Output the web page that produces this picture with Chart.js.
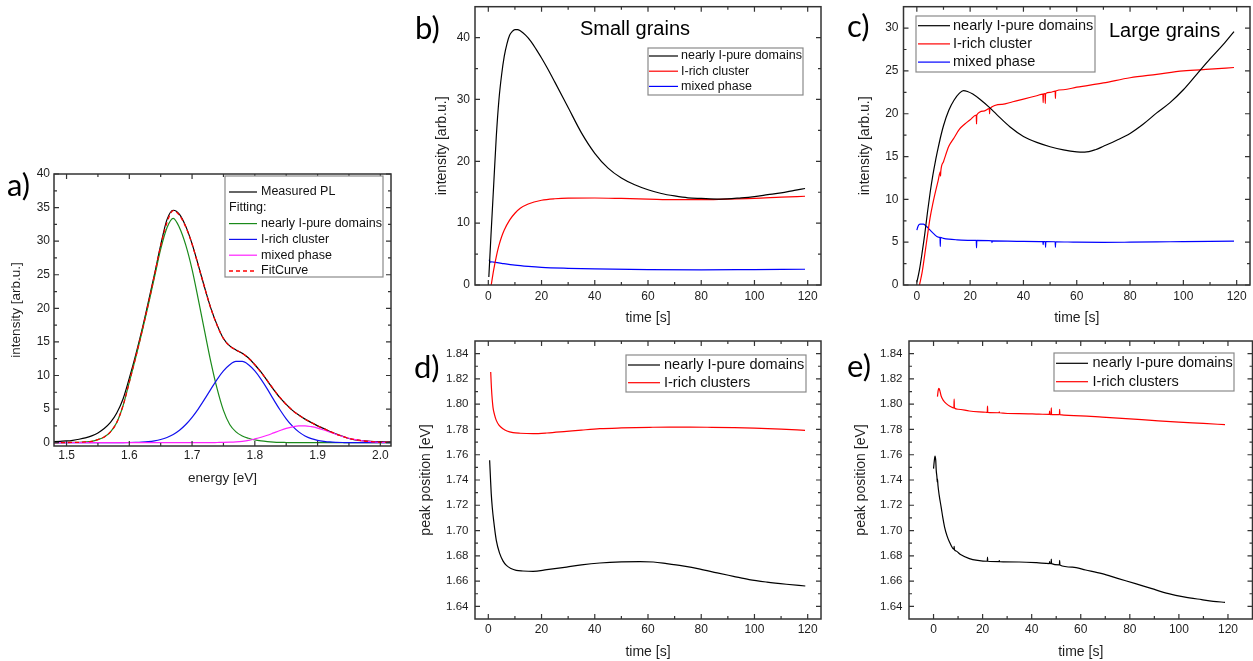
<!DOCTYPE html>
<html>
<head>
<meta charset="utf-8">
<title>PL spectra and phase segregation kinetics</title>
<script src="https://cdn.jsdelivr.net/npm/chart.js@4.4.1/dist/chart.umd.min.js"></script>
<style>
  html, body { margin: 0; padding: 0; background: #fff; }
  #fig { position: relative; width: 1253px; height: 661px; overflow: hidden; background: #fff; }
  #fig canvas { position: absolute; left: 0; top: 0; }
</style>
</head>
<body>
<div id="fig">
  <canvas id="panelA" width="1253" height="661"></canvas>
  <canvas id="panelB" width="1253" height="661"></canvas>
  <canvas id="panelC" width="1253" height="661"></canvas>
  <canvas id="panelD" width="1253" height="661"></canvas>
  <canvas id="panelE" width="1253" height="661"></canvas>
</div>
<script>
// ---------- a) PL spectrum and Gaussian decomposition ----------
const energy = [1.48,1.49,1.50,1.51,1.52,1.53,1.54,1.55,1.56,1.57,1.58,1.59,1.60,1.61,1.62,1.63,1.64,1.65,1.66,1.67,1.68,1.69,1.70,1.71,1.72,1.73,1.74,1.75,1.76,1.77,1.78,1.79,1.80,1.81,1.82,1.83,1.84,1.85,1.86,1.87,1.88,1.89,1.90,1.91,1.92,1.93,1.94,1.95,1.96,1.97,1.98,1.99,2.00,2.01,2.02];
const measuredPL = [0.15,0.2,0.25,0.35,0.5,0.7,1.0,1.45,2.1,3.0,4.4,6.5,9.6,13.0,16.7,20.8,25.0,29.4,33.2,34.6,34.0,32.2,29.6,26.4,23.1,20.0,17.5,15.5,14.4,13.8,13.3,12.6,11.6,10.5,9.2,7.9,6.7,5.7,4.8,4.1,3.5,3.0,2.5,2.1,1.65,1.27,0.94,0.62,0.42,0.3,0.22,0.17,0.14,0.12,0.1];
const purePeak = [0.01,0.01,0.02,0.03,0.05,0.1,0.2,0.45,0.85,1.6,3.0,5.5,9.0,12.6,16.4,20.4,24.6,28.8,32.0,33.4,32.0,29.4,25.8,21.3,16.6,12.0,8.0,4.8,2.7,1.6,1.0,0.65,0.4,0.25,0.15,0.08,0.04,0.02,0,0,0,0,0,0,0,0,0,0,0,0,0,0,0,0,0];
const richPeak = [0,0,0,0,0,0,0,0,0,0,0.01,0.01,0.02,0.04,0.08,0.15,0.27,0.47,0.77,1.22,1.85,2.70,3.77,5.04,6.47,7.97,9.42,10.67,11.6,12.09,12.09,11.6,10.67,9.42,7.97,6.4,4.9,3.55,2.45,1.6,1.0,0.6,0.35,0.2,0.1,0.05,0.02,0,0,0,0,0,0,0,0];
const mixedPeak = [0,0,0,0,0,0,0,0,0,0,0,0,0,0,0,0,0,0,0,0,0,0,0,0,0,0,0.02,0.04,0.07,0.12,0.2,0.33,0.55,0.80,1.10,1.45,1.80,2.12,2.36,2.50,2.50,2.38,2.17,1.88,1.55,1.22,0.92,0.66,0.45,0.29,0.18,0.11,0.06,0.03,0.02];
const fitCurve = [0.01,0.01,0.02,0.03,0.05,0.1,0.2,0.45,0.85,1.6,3.01,5.51,9.02,12.64,16.48,20.55,24.87,29.27,32.77,34.55,33.85,32.1,29.57,26.34,23.07,19.97,17.44,15.51,14.37,13.81,13.29,12.58,11.62,10.47,9.22,7.93,6.74,5.69,4.81,4.1,3.5,2.98,2.52,2.08,1.65,1.27,0.94,0.66,0.45,0.29,0.18,0.11,0.06,0.03,0.02];
const energyTicks = [1.5,1.6,1.7,1.8,1.9,2.0];
const energyTickLabels = ['1.5','1.6','1.7','1.8','1.9','2.0'];
const intensityTicksA = [0,5,10,15,20,25,30,35,40];
const intensityTickLabelsA = ['0','5','10','15','20','25','30','35','40'];

// ---------- b) small grains: integrated intensity vs time ----------
const bTimePure = [0.2,1,2,3,4,5,6,7,8,9,10,11,12,14,16,18,20,22,25,30,35,40,45,50,55,60,65,70,75,80,87,95,100,105,110,115,119];
const bPure = [1.3,8,16,24,30,34,37,39,40.4,41,41.3,41.3,41.1,40.4,39.4,38.1,36.7,35.2,32.8,28.7,24.6,21.3,18.9,17.3,16.2,15.4,14.8,14.4,14.1,14.0,13.9,14.1,14.3,14.6,14.9,15.3,15.6];
const bTimeRich = [1.1,2,3,4,5,6,8,10,12,15,20,25,30,40,50,60,70,80,90,100,110,119];
const bRich = [0,2.4,4.6,6.4,7.8,8.9,10.5,11.6,12.4,13.1,13.7,13.95,14.05,14.07,14.0,13.9,13.8,13.8,13.9,14.0,14.2,14.35];
const bTimeMixed = [0.3,0.8,1.2,2,5,10,15,20,30,40,60,80,100,119];
const bMixed = [4.1,3.7,3.75,3.7,3.5,3.2,3.0,2.85,2.7,2.6,2.5,2.45,2.5,2.55];
const intensityTicksB = [0,10,20,30,40];
const intensityTickLabelsB = ['0','10','20','30','40'];

// ---------- c) large grains: integrated intensity vs time ----------
const cTimePure = [0,1,2,3,4,5,6,7,8,9,10,12,14,16,17.5,19,21,24,27,30,35,40,45,50,55,60,63,67,70,75,80,85,90,95,100,105,110,115,119];
const cPure = [0.3,1.8,3.8,6.0,8.5,10.8,12.8,14.5,16.0,17.4,18.6,20.4,21.6,22.4,22.7,22.6,22.3,21.6,20.8,19.9,18.45,17.35,16.65,16.15,15.78,15.55,15.52,15.8,16.2,16.9,17.7,18.8,20.1,21.3,22.8,24.6,26.4,28.1,29.6];
const cTimeRich = [1,2,3,4,5,6,7,8,8.8,8.9,9.0,10,12,14,16,18,20,22.3,22.4,22.5,25,27.2,27.3,27.4,32,36,40,45,47.3,47.4,47.5,48.1,48.2,48.3,50,51.9,52.0,52.1,55,60,70,80,90,100,110,119];
const cRich = [0,1.5,3.6,5.8,7.9,9.5,10.9,12.2,13.2,12.7,13.3,14.4,16.2,17.2,18.2,18.8,19.3,19.85,18.8,19.85,20.3,20.6,20.0,20.6,21.1,21.4,21.7,22.1,22.3,21.3,22.3,22.35,21.2,22.35,22.5,22.65,21.8,22.65,22.8,23.1,23.6,24.2,24.6,25.0,25.2,25.4];
const cTimeMixed = [0,0.5,1.25,2.5,3.75,5,6.3,8,8.7,8.8,8.9,10,12,15,20,22.3,22.4,22.5,28.1,28.2,28.3,40,47.3,47.4,47.5,48.2,48.3,48.4,51.9,52.0,52.1,60,70,80,90,100,110,119];
const cMixed = [6.4,6.9,7.1,7.1,6.8,6.4,6.0,5.6,5.55,4.5,5.55,5.45,5.35,5.28,5.22,5.2,4.35,5.2,5.15,4.95,5.15,5.1,5.07,4.7,5.07,5.07,4.4,5.07,5.05,4.4,5.05,5.0,4.98,5.0,5.03,5.07,5.1,5.12];
const intensityTicksC = [0,5,10,15,20,25,30];
const intensityTickLabelsC = ['0','5','10','15','20','25','30'];

// ---------- d) small grains: peak positions vs time ----------
const dTimePure = [0.5,0.8,1.1,1.5,2.0,3.0,4.3,5.5,6.8,8.5,10.5,13,16.8,22,29.4,35,41.9,50,57,62,67,73,79.6,86,92.1,98,104.7,112,119.1];
const dPure = [1.7556,1.742,1.7292,1.718,1.708,1.6922,1.6817,1.676,1.6724,1.670,1.6685,1.668,1.6677,1.669,1.6711,1.6728,1.6743,1.6752,1.6754,1.6751,1.6738,1.672,1.6695,1.6665,1.6638,1.6612,1.6592,1.6575,1.6561];
const dTimeRich = [0.9,1.2,1.75,2.3,3,4,5.5,7,9.3,12,16.8,22,29.4,35,41.9,50,60.7,68,75.8,84,92.1,100,110,119];
const dRich = [1.8254,1.812,1.7977,1.792,1.7872,1.7835,1.7806,1.7788,1.7775,1.777,1.7767,1.7772,1.7785,1.7795,1.7806,1.7812,1.7817,1.7819,1.7819,1.7817,1.7814,1.781,1.7802,1.7793];

// ---------- e) large grains: peak positions vs time ----------
const eTimePure = [0,0.3,0.6,0.9,1.1,1.4,1.5,1.6,1.8,2.3,3.1,3.8,4.5,5.5,6.5,7.8,8.3,8.4,8.5,9.2,11,14.6,18,21.9,22.0,22.1,26.7,26.8,26.9,34.9,42,47.2,47.3,47.4,47.9,48.0,48.1,51.3,51.4,51.5,56.6,62,68.7,75,82.3,89,95.8,102,109.3,114,118.8];
const ePure = [1.749,1.755,1.759,1.7555,1.7476,1.742,1.7384,1.741,1.7358,1.728,1.7186,1.710,1.7028,1.6958,1.6909,1.686,1.6852,1.6875,1.685,1.6838,1.681,1.6778,1.6764,1.6757,1.679,1.6757,1.6754,1.6763,1.6754,1.6751,1.6746,1.6739,1.6755,1.6739,1.6738,1.6775,1.6738,1.6728,1.6765,1.6728,1.6711,1.6688,1.6659,1.6622,1.6580,1.654,1.6501,1.6475,1.6453,1.644,1.6432];
const eTimeRich = [1.6,1.9,2.2,2.6,3.1,4,5.2,6.5,7.8,8.3,8.4,8.5,10,14.6,21.4,21.9,22.0,22.1,26.7,26.8,26.9,34.9,43,47.2,47.3,47.4,47.9,48.0,48.1,51.3,51.4,51.5,60,68.7,80,89,100,110,118.8];
const eRich = [1.806,1.811,1.8125,1.8105,1.8065,1.803,1.8004,1.7985,1.7973,1.797,1.804,1.797,1.796,1.7946,1.7936,1.7935,1.7985,1.7935,1.7932,1.794,1.7932,1.7925,1.7921,1.7919,1.7945,1.7919,1.7918,1.797,1.7918,1.7917,1.796,1.7917,1.7908,1.7898,1.7884,1.7872,1.7858,1.7848,1.7838];

const timeTicks = [0,20,40,60,80,100,120];
const timeTickLabels = ['0','20','40','60','80','100','120'];
const peakTicks = [1.64,1.66,1.68,1.70,1.72,1.74,1.76,1.78,1.80,1.82,1.84];
const peakTickLabels = ['1.64','1.66','1.68','1.70','1.72','1.74','1.76','1.78','1.80','1.82','1.84'];

// ---------- drawing helpers ----------
const SANS = '"Liberation Sans", Arial, sans-serif';
const INK = '#1e1e1e';
const pts = (xs, ys) => xs.map((x, i) => ({ x, y: ys[i] }));

function line(label, xs, ys, color, extra) {
  return Object.assign({ label, data: pts(xs, ys), borderColor: color, backgroundColor: color,
    borderWidth: 1.2, pointRadius: 0, fill: false, cubicInterpolationMode: 'monotone' }, extra || {});
}

function axis(o) {
  const horizontal = o.axis === 'x';
  return {
    type: 'linear', position: horizontal ? 'bottom' : 'left',
    min: o.min, max: o.max, bounds: 'data',
    grid: { display: false, drawTicks: false },
    border: { display: false },
    ticks: { autoSkip: false, maxRotation: 0, minRotation: 0, padding: o.pad, color: INK,
      font: { family: SANS, size: o.fontSize }, callback: (v, i) => o.labels[i] },
    title: { display: true, text: o.title, color: INK, padding: 0,
      font: { family: SANS, size: o.titleSize } },
    afterBuildTicks: s => { s.ticks = o.values.map(v => ({ value: v })); },
    afterFit: s => {
      if (horizontal) s.height = o.size; else s.width = o.size;
      s.paddingLeft = 0; s.paddingRight = 0; s.paddingTop = 0; s.paddingBottom = 0;
    }
  };
}

// Box frame with inward major and minor ticks on all four sides
const frameTicks = {
  id: 'frameTicks',
  afterDatasetsDraw(chart) {
    const { ctx, chartArea: a, scales } = chart;
    ctx.save();
    ctx.strokeStyle = '#333';
    const minors = s => {
      const v = s.ticks.map(t => t.value);
      const step = v[1] - v[0];
      const out = v.map(t => t - step / 2).concat([v[v.length - 1] + step / 2]);
      const eps = step * 1e-3;
      return out.filter(t => t > s.min + eps && t < s.max - eps);
    };
    const draw = (s, vals, len) => {
      vals.forEach(val => {
        const p = s.getPixelForValue(val);
        if (s.isHorizontal()) {
          ctx.moveTo(p, a.bottom); ctx.lineTo(p, a.bottom - len);
          ctx.moveTo(p, a.top); ctx.lineTo(p, a.top + len);
        } else {
          ctx.moveTo(a.left, p); ctx.lineTo(a.left + len, p);
          ctx.moveTo(a.right, p); ctx.lineTo(a.right - len, p);
        }
      });
    };
    ctx.lineWidth = 1.2;
    ctx.beginPath();
    [scales.x, scales.y].forEach(s => {
      draw(s, s.ticks.map(t => t.value), 5);
      draw(s, minors(s), 3);
    });
    ctx.stroke();
    ctx.lineWidth = 1.5;
    ctx.strokeRect(a.left, a.top, a.right - a.left, a.bottom - a.top);
    ctx.restore();
  }
};

// Framed legend placed inside the figure
const boxLegend = {
  id: 'boxLegend',
  afterDraw(chart, args, o) {
    if (!o || !o.entries) return;
    const ctx = chart.ctx;
    ctx.save();
    ctx.fillStyle = '#fff';
    ctx.fillRect(o.x, o.y, o.w, o.h);
    ctx.strokeStyle = '#8a8a8a';
    ctx.lineWidth = 1.2;
    ctx.strokeRect(o.x, o.y, o.w, o.h);
    ctx.font = o.fontSize + 'px ' + SANS;
    ctx.textBaseline = 'middle';
    ctx.textAlign = 'left';
    o.entries.forEach((e, i) => {
      const cy = o.firstRow + i * o.rowStep;
      ctx.fillStyle = '#111';
      if (typeof e === 'string') { ctx.fillText(e, o.lineX0, cy); return; }
      const ds = chart.data.datasets[e];
      ctx.strokeStyle = ds.borderColor;
      ctx.lineWidth = ds.borderWidth;
      ctx.setLineDash(ds.borderDash || []);
      ctx.beginPath(); ctx.moveTo(o.lineX0, cy); ctx.lineTo(o.lineX1, cy); ctx.stroke();
      ctx.setLineDash([]);
      ctx.fillText(ds.label, o.textX, cy);
    });
    ctx.restore();
  }
};

// Panel letters and headings
const figureText = {
  id: 'figureText',
  afterDraw(chart, args, o) {
    if (!o || !o.items) return;
    const ctx = chart.ctx;
    ctx.save();
    ctx.textBaseline = 'alphabetic';
    ctx.textAlign = 'left';
    ctx.fillStyle = '#000';
    o.items.forEach(it => { ctx.font = it.font; ctx.fillText(it.text, it.x, it.y); });
    ctx.restore();
  }
};

const LETTER = '31px Lato, "Open Sans", sans-serif';
const HEADING = '20px ' + SANS;

function panel(id, cfg) {
  return new Chart(document.getElementById(id), {
    type: 'line',
    data: { datasets: cfg.datasets },
    options: {
      responsive: false, animation: false, devicePixelRatio: 1, events: [],
      layout: { padding: cfg.pad },
      scales: { x: cfg.x, y: cfg.y },
      plugins: {
        legend: { display: false }, tooltip: { enabled: false },
        boxLegend: cfg.legend, figureText: { items: cfg.texts }
      }
    },
    plugins: [frameTicks, boxLegend, figureText]
  });
}

// a)
panel('panelA', {
  pad: { left: 7.9, top: 174, right: 862, bottom: 174.6 },
  datasets: [
    line('Measured PL', energy, measuredPL, '#000000', { order: 4 }),
    line('nearly I-pure domains', energy, purePeak, '#1a8a1a', { order: 3 }),
    line('I-rich cluster', energy, richPeak, '#1010ee', { order: 2 }),
    line('mixed phase', energy, mixedPeak, '#ff22ff', { order: 1 }),
    line('FitCurve', energy, fitCurve, '#ff0000', { order: 0, borderDash: [4, 3], borderWidth: 1.3 })
  ],
  x: axis({ axis: 'x', min: 1.48, max: 2.017, values: energyTicks, labels: energyTickLabels,
    fontSize: 12, pad: 2, title: 'energy [eV]', titleSize: 13.5, size: 40.4 }),
  y: axis({ axis: 'y', min: -0.5, max: 40, values: intensityTicksA, labels: intensityTickLabelsA,
    fontSize: 12, pad: 4, title: 'intensity [arb.u.]', titleSize: 13.5, size: 46.1 }),
  legend: { x: 225, y: 176, w: 158, h: 101, fontSize: 12.5, firstRow: 192, rowStep: 15.8,
    lineX0: 229, lineX1: 257, textX: 261, entries: [0, 'Fitting:', 1, 2, 3, 4] },
  texts: [{ text: 'a)', x: 7, y: 196, font: LETTER }]
});

// b)
panel('panelB', {
  pad: { left: 434.1, top: 6.7, right: 432, bottom: 334.3 },
  datasets: [
    line('nearly I-pure domains', bTimePure, bPure, '#000000'),
    line('I-rich cluster', bTimeRich, bRich, '#ff0000'),
    line('mixed phase', bTimeMixed, bMixed, '#0000ff')
  ],
  x: axis({ axis: 'x', min: -5, max: 125, values: timeTicks, labels: timeTickLabels,
    fontSize: 12, pad: 4.5, title: 'time [s]', titleSize: 14, size: 41.7 }),
  y: axis({ axis: 'y', min: 0, max: 45, values: intensityTicksB, labels: intensityTickLabelsB,
    fontSize: 12, pad: 5, title: 'intensity [arb.u.]', titleSize: 14, size: 40.9 }),
  legend: { x: 648, y: 48, w: 155, h: 47, fontSize: 12.5, firstRow: 56, rowStep: 15.2,
    lineX0: 649, lineX1: 678, textX: 681, entries: [0, 1, 2] },
  texts: [{ text: 'b)', x: 415, y: 39, font: LETTER }, { text: 'Small grains', x: 580, y: 35, font: HEADING }]
});

// c)
panel('panelC', {
  pad: { left: 856.6, top: 6.7, right: 3, bottom: 334.3 },
  datasets: [
    line('nearly I-pure domains', cTimePure, cPure, '#000000'),
    line('I-rich cluster', cTimeRich, cRich, '#ff0000'),
    line('mixed phase', cTimeMixed, cMixed, '#0000ff')
  ],
  x: axis({ axis: 'x', min: -5, max: 125, values: timeTicks, labels: timeTickLabels,
    fontSize: 12, pad: 4.5, title: 'time [s]', titleSize: 14, size: 41.7 }),
  y: axis({ axis: 'y', min: 0, max: 32.5, values: intensityTicksC, labels: intensityTickLabelsC,
    fontSize: 12, pad: 5, title: 'intensity [arb.u.]', titleSize: 14, size: 46.9 }),
  legend: { x: 916, y: 16, w: 179, h: 56, fontSize: 14.5, firstRow: 25.7, rowStep: 18.2,
    lineX0: 918, lineX1: 950, textX: 953, entries: [0, 1, 2] },
  texts: [{ text: 'c)', x: 847, y: 37, font: LETTER }, { text: 'Large grains', x: 1109, y: 37, font: HEADING }]
});

// d)
panel('panelD', {
  pad: { left: 418.1, top: 341, right: 432, bottom: 0.9 },
  datasets: [
    line('nearly I-pure domains', dTimePure, dPure, '#000000'),
    line('I-rich clusters', dTimeRich, dRich, '#ff0000')
  ],
  x: axis({ axis: 'x', min: -5, max: 125, values: timeTicks, labels: timeTickLabels,
    fontSize: 12, pad: 3.8, title: 'time [s]', titleSize: 14, size: 41.1 }),
  y: axis({ axis: 'y', min: 1.63, max: 1.85, values: peakTicks, labels: peakTickLabels,
    fontSize: 11.5, pad: 6.5, title: 'peak position [eV]', titleSize: 14, size: 56.9 }),
  legend: { x: 626, y: 355, w: 180, h: 37, fontSize: 14.5, firstRow: 365, rowStep: 17.7,
    lineX0: 628, lineX1: 660, textX: 664, entries: [0, 1] },
  texts: [{ text: 'd)', x: 414, y: 378, font: LETTER }]
});

// e)
panel('panelE', {
  pad: { left: 852.6, top: 341, right: 0.5, bottom: 0.9 },
  datasets: [
    line('nearly I-pure domains', eTimePure, ePure, '#000000'),
    line('I-rich clusters', eTimeRich, eRich, '#ff0000')
  ],
  x: axis({ axis: 'x', min: -10, max: 130, values: timeTicks, labels: timeTickLabels,
    fontSize: 12, pad: 3.8, title: 'time [s]', titleSize: 14, size: 41.1 }),
  y: axis({ axis: 'y', min: 1.63, max: 1.85, values: peakTicks, labels: peakTickLabels,
    fontSize: 11.5, pad: 6.5, title: 'peak position [eV]', titleSize: 14, size: 56.4 }),
  legend: { x: 1054, y: 353, w: 180, h: 38, fontSize: 14.5, firstRow: 363.3, rowStep: 18.4,
    lineX0: 1056, lineX1: 1088, textX: 1092.5, entries: [0, 1] },
  texts: [{ text: 'e)', x: 847, y: 377, font: LETTER }]
});
</script>
</body>
</html>
